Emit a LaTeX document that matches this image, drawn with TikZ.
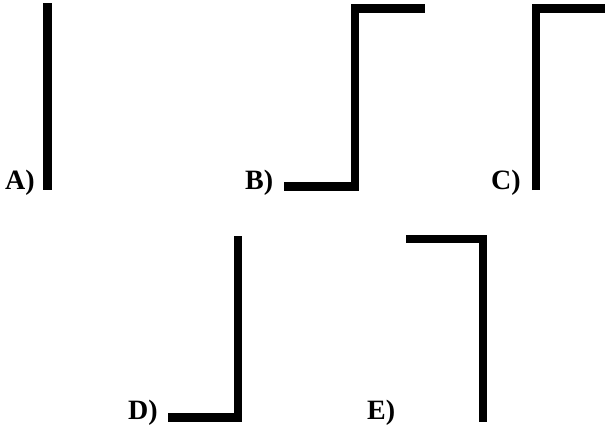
\documentclass[tikz,border=0pt]{standalone}
\usepackage{fontspec}
\setmainfont{Liberation Serif}
\begin{document}
\begin{tikzpicture}[x=1pt,y=-1pt,
  bar/.style={line width=8.5pt,line cap=butt,line join=miter,black},
  lbl/.style={anchor=base west,inner sep=0pt,font=\fontsize{28}{30}\selectfont\bfseries}]
\useasboundingbox (0,0) rectangle (605,432);
% A
\node[lbl] (la) at (5,189) {A)};
\draw[bar] (47.5,3) -- (47.5,190);
% B
\node[lbl] (lb) at (245,189) {B)};
\draw[bar] (284,186.5) -- (355,186.5) -- (355,8.5) -- (425,8.5);
% C
\node[lbl] (lc) at (491,189) {C)};
\draw[bar] (536,190) -- (536,8.5) -- (610,8.5);
% D
\node[lbl] (ld) at (128,419) {D)};
\draw[bar] (168,417.5) -- (238,417.5) -- (238,236);
% E
\node[lbl] (le) at (367,419) {E)};
\draw[bar] (406,239) -- (483,239) -- (483,422);
\end{tikzpicture}
\end{document}
